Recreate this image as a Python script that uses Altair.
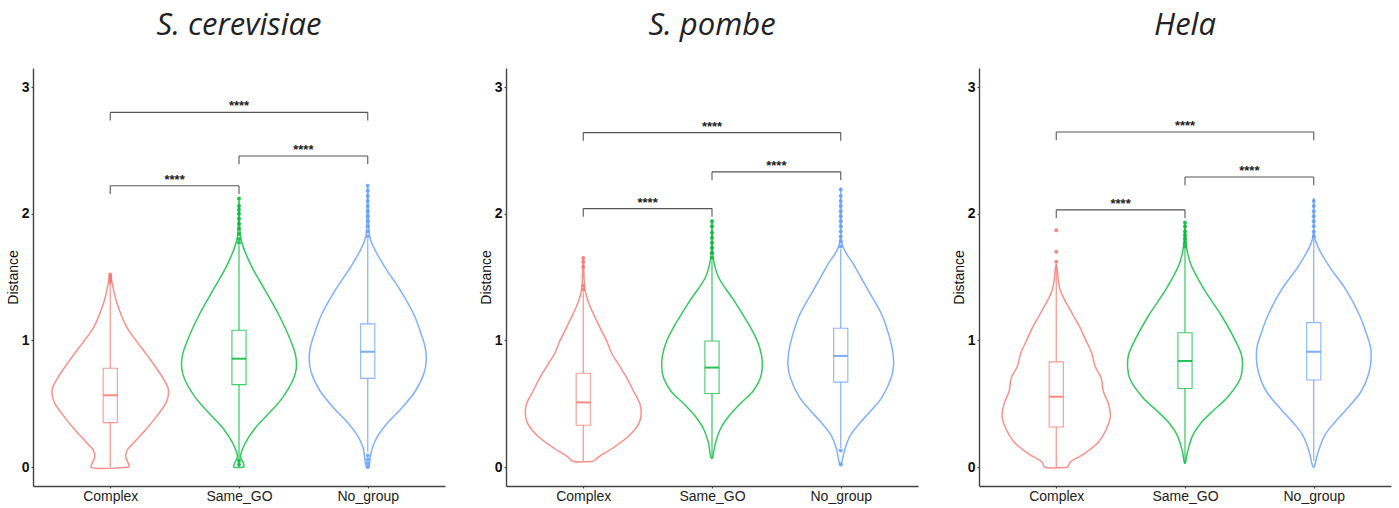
import altair as alt
import pandas as pd

CATEGORIES = ["Complex", "Same_GO", "No_group"]
POSITIONS = [1, 2, 3]
COLORS = ["#F8766D", "#00BA38", "#619CFF"]
PANEL_TITLES = ["S. cerevisiae", "S. pombe", "Hela"]
Y_TICKS = [0, 1, 2, 3]
STARS = "****"
BRACKET_PAIRS = [(1, 2), (2, 3), (1, 3)]

# ---- violin outlines: value levels and half widths (x units) ----
SC_COMPLEX_V = [0.0, 0.03, 0.08, 0.13, 0.2, 0.3, 0.4, 0.5, 0.56, 0.62, 0.7, 0.85, 1.0, 1.1, 1.3, 1.45, 1.52]
SC_COMPLEX_W = [0.15, 0.14, 0.12, 0.13, 0.19, 0.28, 0.36, 0.43, 0.45, 0.45, 0.41, 0.31, 0.20, 0.13, 0.05, 0.015, 0.0]
SC_SAME_V = [0.0, 0.03, 0.08, 0.12, 0.2, 0.3, 0.4, 0.55, 0.7, 0.78, 0.88, 1.0, 1.2, 1.4, 1.6, 1.8, 2.12]
SC_SAME_W = [0.04, 0.035, 0.012, 0.02, 0.055, 0.12, 0.21, 0.34, 0.425, 0.445, 0.44, 0.40, 0.31, 0.20, 0.09, 0.015, 0.0]
SC_NOGROUP_V = [0.0, 0.15, 0.25, 0.35, 0.45, 0.6, 0.75, 0.85, 0.95, 1.05, 1.2, 1.4, 1.6, 1.8, 2.0, 2.22]
SC_NOGROUP_W = [0.01, 0.035, 0.08, 0.155, 0.25, 0.37, 0.44, 0.455, 0.445, 0.415, 0.36, 0.25, 0.12, 0.02, 0.006, 0.0]

SP_COMPLEX_V = [0.045, 0.08, 0.15, 0.25, 0.35, 0.42, 0.5, 0.6, 0.7, 0.8, 0.9, 1.0, 1.1, 1.3, 1.4, 1.66]
SP_COMPLEX_W = [0.08, 0.12, 0.23, 0.36, 0.435, 0.45, 0.44, 0.39, 0.34, 0.28, 0.22, 0.18, 0.13, 0.04, 0.013, 0.0]
SP_SAME_V = [0.07, 0.2, 0.3, 0.4, 0.5, 0.6, 0.7, 0.78, 0.88, 1.0, 1.1, 1.3, 1.5, 1.65, 1.95]
SP_SAME_W = [0.005, 0.03, 0.065, 0.13, 0.22, 0.32, 0.375, 0.39, 0.385, 0.35, 0.30, 0.18, 0.05, 0.01, 0.0]
SP_NOGROUP_V = [0.02, 0.15, 0.25, 0.35, 0.45, 0.55, 0.7, 0.8, 0.9, 1.0, 1.2, 1.4, 1.6, 1.75, 2.2]
SP_NOGROUP_W = [0.005, 0.035, 0.075, 0.15, 0.24, 0.32, 0.39, 0.41, 0.405, 0.385, 0.32, 0.21, 0.10, 0.013, 0.0]

HE_COMPLEX_V = [0.0, 0.04, 0.1, 0.2, 0.3, 0.4, 0.5, 0.6, 0.7, 0.8, 0.9, 1.0, 1.1, 1.2, 1.4, 1.6]
HE_COMPLEX_W = [0.09, 0.11, 0.21, 0.33, 0.39, 0.42, 0.405, 0.365, 0.35, 0.30, 0.275, 0.23, 0.185, 0.13, 0.03, 0.0]
HE_SAME_V = [0.03, 0.12, 0.25, 0.35, 0.45, 0.55, 0.7, 0.78, 0.88, 1.0, 1.2, 1.4, 1.6, 1.75, 1.93]
HE_SAME_W = [0.003, 0.02, 0.06, 0.125, 0.225, 0.33, 0.43, 0.445, 0.44, 0.39, 0.28, 0.15, 0.045, 0.01, 0.0]
HE_NOGROUP_V = [0.0, 0.12, 0.25, 0.35, 0.45, 0.6, 0.75, 0.85, 0.95, 1.05, 1.2, 1.4, 1.6, 1.8, 2.12]
HE_NOGROUP_W = [0.005, 0.035, 0.085, 0.16, 0.25, 0.37, 0.43, 0.445, 0.44, 0.41, 0.355, 0.25, 0.11, 0.01, 0.0]

# ---- box statistics (Complex, Same_GO, No_group) ----
SC_Q1 = [0.35, 0.65, 0.70]
SC_MED = [0.566, 0.855, 0.91]
SC_Q3 = [0.78, 1.08, 1.13]
SC_LO = [0.0, 0.0, 0.12]
SC_HI = [1.45, 1.75, 1.80]

SP_Q1 = [0.33, 0.58, 0.67]
SP_MED = [0.51, 0.785, 0.877]
SP_Q3 = [0.74, 0.995, 1.095]
SP_LO = [0.045, 0.07, 0.15]
SP_HI = [1.38, 1.63, 1.72]

HE_Q1 = [0.316, 0.62, 0.687]
HE_MED = [0.555, 0.837, 0.91]
HE_Q3 = [0.83, 1.06, 1.14]
HE_LO = [0.0, 0.03, 0.05]
HE_HI = [1.60, 1.73, 1.80]

# ---- outliers ----
SC_OUT_COMPLEX = [1.46, 1.48, 1.50, 1.52]
SC_OUT_SAME = [1.77, 1.80, 1.84, 1.88, 1.92, 1.96, 2.00, 2.03, 2.06, 2.12, 0.02, 0.05]
SC_OUT_NOGROUP = [1.82, 1.86, 1.90, 1.94, 1.98, 2.02, 2.06, 2.10, 2.14, 2.18, 2.22, 0.0, 0.03, 0.06, 0.09]
SP_OUT_COMPLEX = [1.40, 1.43, 1.58, 1.62, 1.65]
SP_OUT_SAME = [1.65, 1.69, 1.73, 1.77, 1.81, 1.85, 1.90, 1.94]
SP_OUT_NOGROUP = [1.74, 1.78, 1.82, 1.86, 1.90, 1.94, 1.98, 2.02, 2.06, 2.10, 2.14, 2.19, 0.13, 0.02]
HE_OUT_COMPLEX = [1.62, 1.70, 1.87]
HE_OUT_SAME = [1.74, 1.77, 1.80, 1.83, 1.86, 1.90, 1.93]
HE_OUT_NOGROUP = [1.82, 1.86, 1.90, 1.94, 1.98, 2.02, 2.06, 2.10]

# ---- significance brackets (heights per pair) ----
SC_BRACKET_Y = [2.22, 2.455, 2.80]
SP_BRACKET_Y = [2.04, 2.33, 2.64]
HE_BRACKET_Y = [2.03, 2.29, 2.645]

PANELS = [
    dict(title=PANEL_TITLES[0],
         violins=[(SC_COMPLEX_V, SC_COMPLEX_W), (SC_SAME_V, SC_SAME_W), (SC_NOGROUP_V, SC_NOGROUP_W)],
         q1=SC_Q1, med=SC_MED, q3=SC_Q3, lo=SC_LO, hi=SC_HI,
         out=[SC_OUT_COMPLEX, SC_OUT_SAME, SC_OUT_NOGROUP], br=SC_BRACKET_Y),
    dict(title=PANEL_TITLES[1],
         violins=[(SP_COMPLEX_V, SP_COMPLEX_W), (SP_SAME_V, SP_SAME_W), (SP_NOGROUP_V, SP_NOGROUP_W)],
         q1=SP_Q1, med=SP_MED, q3=SP_Q3, lo=SP_LO, hi=SP_HI,
         out=[SP_OUT_COMPLEX, SP_OUT_SAME, SP_OUT_NOGROUP], br=SP_BRACKET_Y),
    dict(title=PANEL_TITLES[2],
         violins=[(HE_COMPLEX_V, HE_COMPLEX_W), (HE_SAME_V, HE_SAME_W), (HE_NOGROUP_V, HE_NOGROUP_W)],
         q1=HE_Q1, med=HE_MED, q3=HE_Q3, lo=HE_LO, hi=HE_HI,
         out=[HE_OUT_COMPLEX, HE_OUT_SAME, HE_OUT_NOGROUP], br=HE_BRACKET_Y),
]

BOX_HALF = 0.055
TIP = 0.065
PLOT_W = 412
PLOT_H = 418

label_expr = " : ".join(
    [f"datum.value == {p} ? '{c}'" for p, c in zip(POSITIONS[:-1], CATEGORIES[:-1])]
) + f" : '{CATEGORIES[-1]}'"


def xenc(field="x"):
    return alt.X(f"{field}:Q",
                 scale=alt.Scale(domain=[0.4, 3.6], nice=False, zero=False),
                 axis=alt.Axis(values=POSITIONS, labelExpr=label_expr, title=None, grid=False,
                               tickSize=2, labelPadding=1, labelFontSize=14, labelFont="Liberation Sans",
                               labelColor="#222"))


def yenc(field="y"):
    return alt.Y(f"{field}:Q",
                 scale=alt.Scale(domain=[-0.15, 3.15], nice=False, zero=False),
                 axis=alt.Axis(values=Y_TICKS, title="Distance", grid=False, format="d",
                               tickSize=2, labelPadding=2, labelFontSize=14, labelFontWeight="bold",
                               labelFont="Liberation Sans", labelColor="#111",
                               titleFont="Liberation Sans", titleFontSize=14, titleFontWeight="normal",
                               titleColor="#111", titlePadding=1))


color = alt.Color("group:N", scale=alt.Scale(domain=CATEGORIES, range=COLORS), legend=None)


def panel(p):
    vrows, brows, wrows, orows = [], [], [], []
    for gi, (cat, pos) in enumerate(zip(CATEGORIES, POSITIONS)):
        vals, widths = p["violins"][gi]
        pts = [(pos + w, v) for v, w in zip(vals, widths)]
        for v, w in reversed(list(zip(vals, widths))):
            if w == 0:
                continue
            pts.append((pos - w, v))
        pts.append(pts[0])
        for k, (x, y) in enumerate(pts):
            vrows.append(dict(x=x, y=y, group=cat, o=k))
        brows.append(dict(x=pos - BOX_HALF, x2=pos + BOX_HALF, y=p["q1"][gi], y2=p["q3"][gi],
                          med=p["med"][gi], group=cat))
        wrows.append(dict(x=pos, y=p["lo"][gi], y2=p["q1"][gi], group=cat))
        wrows.append(dict(x=pos, y=p["q3"][gi], y2=p["hi"][gi], group=cat))
        for v in p["out"][gi]:
            orows.append(dict(x=pos, y=v, group=cat))
    vdf = pd.DataFrame(vrows)
    bdf = pd.DataFrame(brows)
    wdf = pd.DataFrame(wrows)
    odf = pd.DataFrame(orows)

    hrows, trows, srows = [], [], []
    for (a, b), yb in zip(BRACKET_PAIRS, p["br"]):
        hrows.append(dict(x=a, x2=b, y=yb))
        trows.append(dict(x=a, y=yb - TIP, y2=yb))
        trows.append(dict(x=b, y=yb - TIP, y2=yb))
        srows.append(dict(x=(a + b) / 2, y=yb, label=STARS))
    hdf, tdf, sdf = pd.DataFrame(hrows), pd.DataFrame(trows), pd.DataFrame(srows)

    violin = alt.Chart(vdf).mark_line(interpolate="catmull-rom", strokeWidth=1.5, opacity=0.8).encode(
        x=xenc(), y=yenc(), color=color, order="o:Q", detail="group:N")
    whisk = alt.Chart(wdf).mark_rule(strokeWidth=1.2, opacity=0.8).encode(
        x=xenc(), y=yenc(), y2="y2", color=color)
    box = alt.Chart(bdf).mark_rect(fill="white", strokeWidth=1.1, strokeOpacity=0.75).encode(
        x=xenc(), x2="x2", y=yenc(), y2="y2",
        stroke=alt.Stroke("group:N", scale=alt.Scale(domain=CATEGORIES, range=COLORS), legend=None))
    med = alt.Chart(bdf).mark_rule(strokeWidth=2, opacity=0.85).encode(
        x=xenc(), x2="x2", y=yenc("med"), color=color)
    outl = alt.Chart(odf).mark_circle(size=16, opacity=0.85).encode(
        x=xenc(), y=yenc(), color=color)
    hbr = alt.Chart(hdf).mark_rule(color="#555", strokeWidth=1.1).encode(
        x=xenc(), x2="x2", y=yenc())
    tbr = alt.Chart(tdf).mark_rule(color="#555", strokeWidth=1.1).encode(
        x=xenc(), y=yenc(), y2="y2")
    star = alt.Chart(sdf).mark_text(baseline="alphabetic", dy=-2, fontSize=13, fontWeight="bold",
                                    font="Liberation Sans", color="#222").encode(
        x=xenc(), y=yenc(), text="label:N")

    return alt.layer(violin, whisk, box, med, outl, hbr, tbr, star).properties(
        width=PLOT_W, height=PLOT_H,
        title=alt.TitleParams(p["title"], font="Open Sans", fontStyle="italic", fontWeight="normal",
                              fontSize=31, color="#222", anchor="middle", offset=26))


chart = alt.hconcat(*[panel(p) for p in PANELS], spacing=34).properties(
    padding={"left": 6, "top": 10, "right": 2, "bottom": 2},
    background="white",
).configure_view(stroke=None).configure_axis(
    domainColor="#444", domainWidth=1.4, tickColor="#444", tickWidth=1.2
)

chart.save("out.html", embed_options={"renderer": "svg", "actions": False})
